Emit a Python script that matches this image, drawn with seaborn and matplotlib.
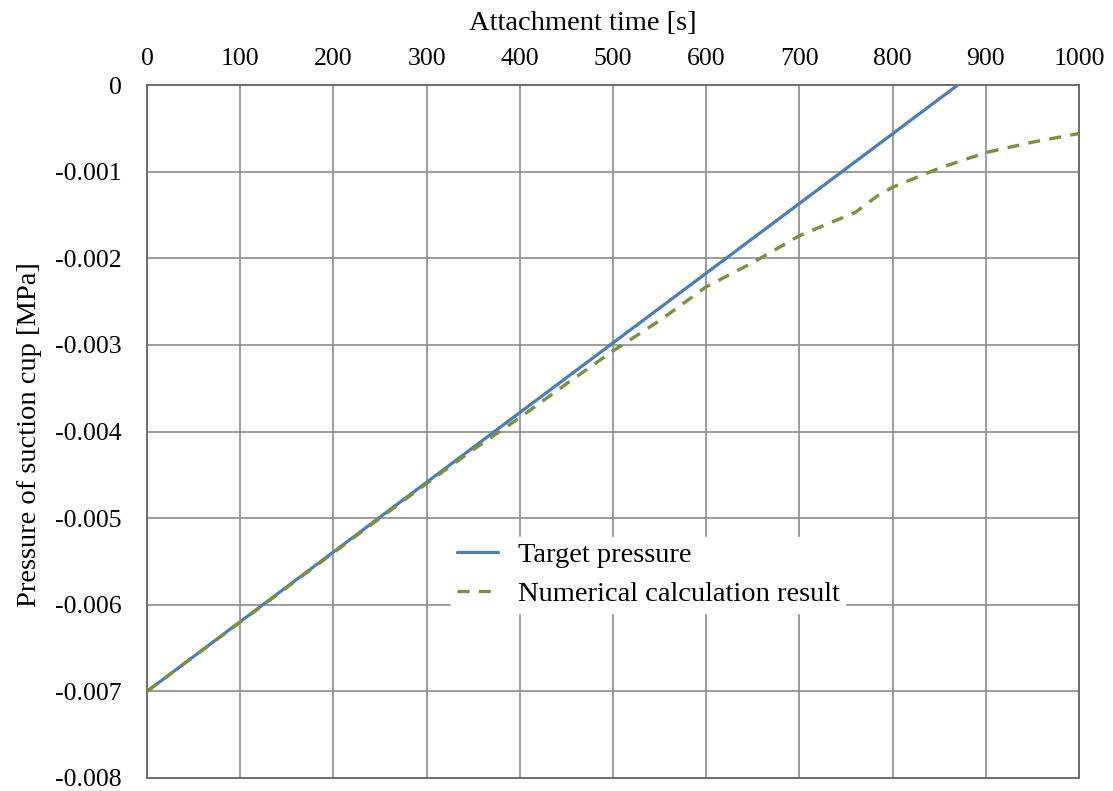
import matplotlib
matplotlib.use("Agg")
import matplotlib.pyplot as plt
import seaborn as sns
import pandas as pd
from matplotlib.ticker import FixedLocator, FixedFormatter

# ---- data ----
target_time = [0, 870]
target_pressure = [-0.007, 0.0]

calc_time = [0, 100, 200, 300, 350, 400, 450, 500, 550, 600, 650, 700,
             740, 760, 785, 800, 850, 900, 950, 1000]
calc_pressure = [-0.0070, -0.0062, -0.0054, -0.0046, -0.00421, -0.00384,
                 -0.00345, -0.00307, -0.00272, -0.00233, -0.00205, -0.00174,
                 -0.00156, -0.00147, -0.00127, -0.00118, -0.00096, -0.00078,
                 -0.00066, -0.00056]

x_ticks = [0, 100, 200, 300, 400, 500, 600, 700, 800, 900, 1000]
y_ticks = [0, -0.001, -0.002, -0.003, -0.004, -0.005, -0.006, -0.007, -0.008]
y_tick_labels = ["0", "-0.001", "-0.002", "-0.003", "-0.004", "-0.005",
                 "-0.006", "-0.007", "-0.008"]

series_names = ["Target pressure", "Numerical calculation result"]
x_label = "Attachment time [s]"
y_label = "Pressure of suction cup [MPa]"

# ---- style ----
sns.set_theme(style="white")
plt.rcParams["font.family"] = ["Liberation Serif", "DejaVu Serif"]
plt.rcParams["axes.unicode_minus"] = False
plt.rcParams["text.color"] = "black"
plt.rcParams["axes.labelcolor"] = "black"

fig = plt.figure(figsize=(11.13, 7.91), dpi=100)
ax = fig.add_axes([147 / 1113, 1 - 778 / 791, (1079 - 147) / 1113, (778 - 85) / 791])

df_t = pd.DataFrame({"t": target_time, "p": target_pressure})
df_c = pd.DataFrame({"t": calc_time, "p": calc_pressure})

sns.lineplot(data=df_t, x="t", y="p", ax=ax, color="#4a7ebb", linewidth=2.3,
             label=series_names[0], zorder=3)
sns.lineplot(data=df_c, x="t", y="p", ax=ax, color="#77933c", linewidth=2.4,
             label=series_names[1], zorder=3)
ax.lines[1].set_dashes([3.6, 2.8])

ax.set_xlim(0, 1000)
ax.set_ylim(-0.008, 0)
ax.xaxis.set_major_locator(FixedLocator(x_ticks))
ax.yaxis.set_major_locator(FixedLocator(y_ticks))
ax.yaxis.set_major_formatter(FixedFormatter(y_tick_labels))

ax.xaxis.tick_top()
ax.xaxis.set_label_position("top")
ax.set_xlabel(x_label, fontsize=20.5, color="black")
ax.set_ylabel(y_label, fontsize=20.5, color="black")
ax.xaxis.set_label_coords(0.468, 1.08)
ax.yaxis.set_label_coords(-0.113, 0.495)

ax.tick_params(axis="both", labelsize=18.5, length=0, colors="black")
ax.tick_params(axis="x", pad=11)
ax.tick_params(axis="y", pad=18)

ax.grid(True, color="#8c8c8c", linewidth=1.2)
ax.set_axisbelow(True)
for s in ax.spines.values():
    s.set_color("#6e6e6e")
    s.set_linewidth(1.4)

leg = ax.legend(loc="upper left", bbox_to_anchor=(0.326, 0.348), frameon=True,
                fontsize=20.5, handlelength=1.45, borderpad=0.2, labelspacing=0.45,
                handletextpad=0.7, borderaxespad=0.0, fancybox=False)
leg.get_frame().set_facecolor("white")
leg.get_frame().set_edgecolor("white")
leg.get_frame().set_alpha(1.0)
for t in leg.get_texts():
    t.set_color("black")

fig.savefig("out.png", dpi=100)
